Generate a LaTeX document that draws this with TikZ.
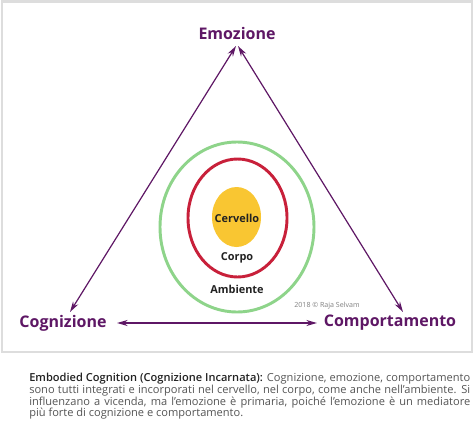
\documentclass[tikz,border=0pt]{standalone}
\usepackage{fontspec}
\setmainfont{Open Sans}
\IfFontExistsTF{Open Sans SemiBold}{\newfontfamily\capbold{Open Sans SemiBold}}{\IfFontExistsTF{Open Sans Semibold}{\newfontfamily\capbold{Open Sans Semibold}}{\newcommand\capbold{\bfseries}}}
\usetikzlibrary{arrows.meta}
\definecolor{purp}{HTML}{5E1765}
\definecolor{framegray}{HTML}{DDDDDD}
\definecolor{ringgreen}{HTML}{8ED48A}
\definecolor{ringred}{HTML}{C8203A}
\definecolor{coreyellow}{HTML}{F9C632}
\definecolor{txtgray}{HTML}{555555}
\definecolor{txtdark}{HTML}{222222}
\begin{document}
\begin{tikzpicture}[x=0.75pt,y=-0.75pt,
  corner/.style={font=\bfseries\fontsize{12}{14}\selectfont, text=purp, inner sep=0pt},
  inner/.style={font=\bfseries\fontsize{8.2}{10}\selectfont, text=txtdark, inner sep=0pt},
  link/.style={draw=purp, line width=0.9pt, {Stealth[length=8pt,width=4.5pt]}-{Stealth[length=8pt,width=4.5pt]}}]
\useasboundingbox (0,0) rectangle (474,439);
\fill[white] (0,0) rectangle (474,439);
\draw[framegray, line width=1.5pt] (2,1.5) rectangle (472,351.5);
% rings
\draw[ringgreen, line width=2.2pt] (237,227) ellipse [x radius=77*0.75pt, y radius=85*0.75pt];
\draw[ringred, line width=2.2pt] (237.5,218) ellipse [x radius=49.5*0.75pt, y radius=59*0.75pt];
\fill[coreyellow] (236.5,217) ellipse [x radius=24.5*0.75pt, y radius=30*0.75pt];
\node[inner] (cerv) at (237,218) {Cervello};
\node[inner] (corpo) at (237,258) {Corpo};
\node[inner] (amb) at (237,289) {Ambiente};
% corners
\node[corner] (emo) at (237,33) {Emozione};
\node[corner] (cog) at (63,323) {Cognizione};
\node[corner] (comp) at (390,323) {Comportamento};
\coordinate (topL) at (236,46);
\coordinate (topR) at (238,46);
\coordinate (bl) at (70,312);
\coordinate (br) at (403,312);
\coordinate (hl) at (117,323);
\coordinate (hr) at (317,323);
\draw[link] (topL) -- (bl);
\draw[link] (topR) -- (br);
\draw[link] (hl) -- (hr);
\node[font=\fontsize{5.3}{6}\selectfont, text=gray, inner sep=0pt] (copy) at (327,305.5) {2018 © Raja Selvam};
% caption
\node[anchor=north west, inner sep=0pt, text width=441*0.75pt, align=justify,
  font=\fontsize{8.3}{8.8}\selectfont, text=txtgray] (cap) at (29,373)
{{\capbold\color{txtdark}Embodied Cognition (Cognizione Incarnata):} Cognizione, emozione, comportamento\linebreak
sono tutti integrati e incorporati nel cervello, nel corpo, come anche nell’ambiente. Si\linebreak
influenzano a vicenda, ma l’emozione è primaria, poiché l’emozione è un mediatore\linebreak
più forte di cognizione e comportamento.};
\end{tikzpicture}
\end{document}
